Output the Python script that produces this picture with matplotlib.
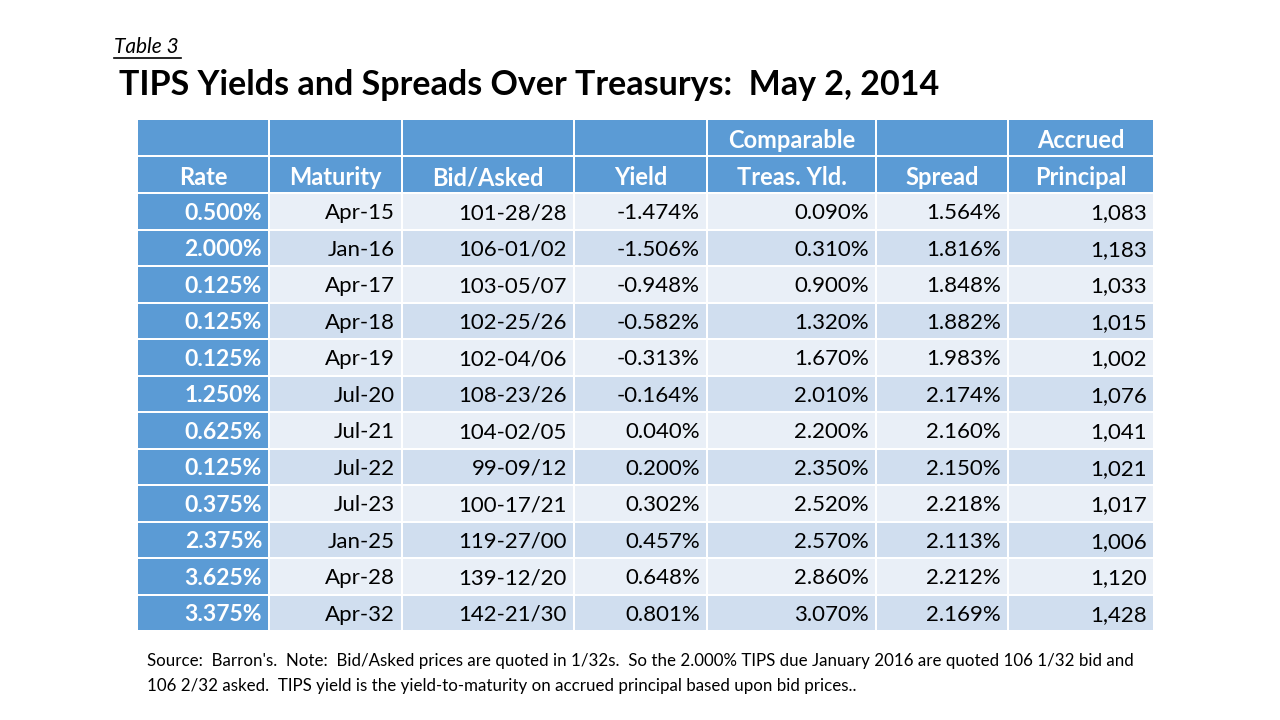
import matplotlib.pyplot as plt
from matplotlib.patches import Rectangle

plt.rcParams["font.family"] = ["Lato", "DejaVu Sans"]

# table data
rates = ["0.500%", "2.000%", "0.125%", "0.125%", "0.125%", "1.250%",
         "0.625%", "0.125%", "0.375%", "2.375%", "3.625%", "3.375%"]
maturities = ["Apr-15", "Jan-16", "Apr-17", "Apr-18", "Apr-19", "Jul-20",
              "Jul-21", "Jul-22", "Jul-23", "Jan-25", "Apr-28", "Apr-32"]
bid_asked = ["101-28/28", "106-01/02", "103-05/07", "102-25/26", "102-04/06",
             "108-23/26", "104-02/05", "99-09/12", "100-17/21", "119-27/00",
             "139-12/20", "142-21/30"]
yields = [-1.474, -1.506, -0.948, -0.582, -0.313, -0.164,
          0.040, 0.200, 0.302, 0.457, 0.648, 0.801]
treas_yld = [0.090, 0.310, 0.900, 1.320, 1.670, 2.010,
             2.200, 2.350, 2.520, 2.570, 2.860, 3.070]
spreads = [1.564, 1.816, 1.848, 1.882, 1.983, 2.174,
           2.160, 2.150, 2.218, 2.113, 2.212, 2.169]
accrued = [1083, 1183, 1033, 1015, 1002, 1076,
           1041, 1021, 1017, 1006, 1120, 1428]

header_top = ["", "", "", "", "Comparable", "", "Accrued"]
header_bot = ["Rate", "Maturity", "Bid/Asked", "Yield", "Treas. Yld.", "Spread", "Principal"]

col_edges = [137, 269, 402, 574, 707, 876, 1008, 1154]
head_rows = [(120, 155), (157, 192)]
row_top, row_h = 193, 36.5

BLUE = "#5B9BD5"
LIGHT = "#E9EFF7"
MID = "#D0DEEF"

fig = plt.figure(figsize=(12.8, 7.2), dpi=100)
ax = fig.add_axes([0, 0, 1, 1])
ax.set_xlim(0, 1280)
ax.set_ylim(720, 0)
ax.axis("off")

gap = 1.0

# header rows
for (y0, y1), labels in zip(head_rows, [header_top, header_bot]):
    for j, lab in enumerate(labels):
        x0, x1 = col_edges[j], col_edges[j + 1]
        ax.add_patch(Rectangle((x0 + gap, y0), x1 - x0 - 2 * gap, y1 - y0,
                               facecolor=BLUE, edgecolor="none"))
        if lab:
            ax.text((x0 + x1) / 2, (y0 + y1) / 2 + 3, lab, ha="center", va="center",
                    color="white", fontsize=17, fontweight="bold")

# data rows
for i in range(len(rates)):
    y0 = row_top + i * row_h
    cells = [rates[i], maturities[i], bid_asked[i], f"{yields[i]:.3f}%",
             f"{treas_yld[i]:.3f}%", f"{spreads[i]:.3f}%", f"{accrued[i]:,}"]
    band = LIGHT if i % 2 == 0 else MID
    for j, txt in enumerate(cells):
        x0, x1 = col_edges[j], col_edges[j + 1]
        fc = BLUE if j == 0 else band
        ax.add_patch(Rectangle((x0 + gap, y0 + gap), x1 - x0 - 2 * gap, row_h - 2 * gap,
                               facecolor=fc, edgecolor="none"))
        ax.text(x1 - 7, y0 + row_h / 2 + 2, txt, ha="right", va="center",
                color="white" if j == 0 else "black", fontsize=16.5 if j == 0 else 16,
                fontweight="bold" if j == 0 else "normal")

# titles
ax.text(114, 47, "Table 3", ha="left", va="center", fontsize=15, style="italic")
ax.plot([114, 181], [58, 58], color="black", lw=1.2)
ax.text(119, 85, "TIPS Yields and Spreads Over Treasurys:  May 2, 2014",
        ha="left", va="center", fontsize=24.5, fontweight="bold")

# footnote
ax.text(147, 661, "Source:  Barron's.  Note:  Bid/Asked prices are quoted in 1/32s.  So the 2.000% TIPS due January 2016 are quoted 106 1/32 bid and",
        ha="left", va="center", fontsize=12.2)
ax.text(147, 686, "106 2/32 asked.  TIPS yield is the yield-to-maturity on accrued principal based upon bid prices..",
        ha="left", va="center", fontsize=12.2)

fig.savefig("out.png", dpi=100, facecolor="white")
